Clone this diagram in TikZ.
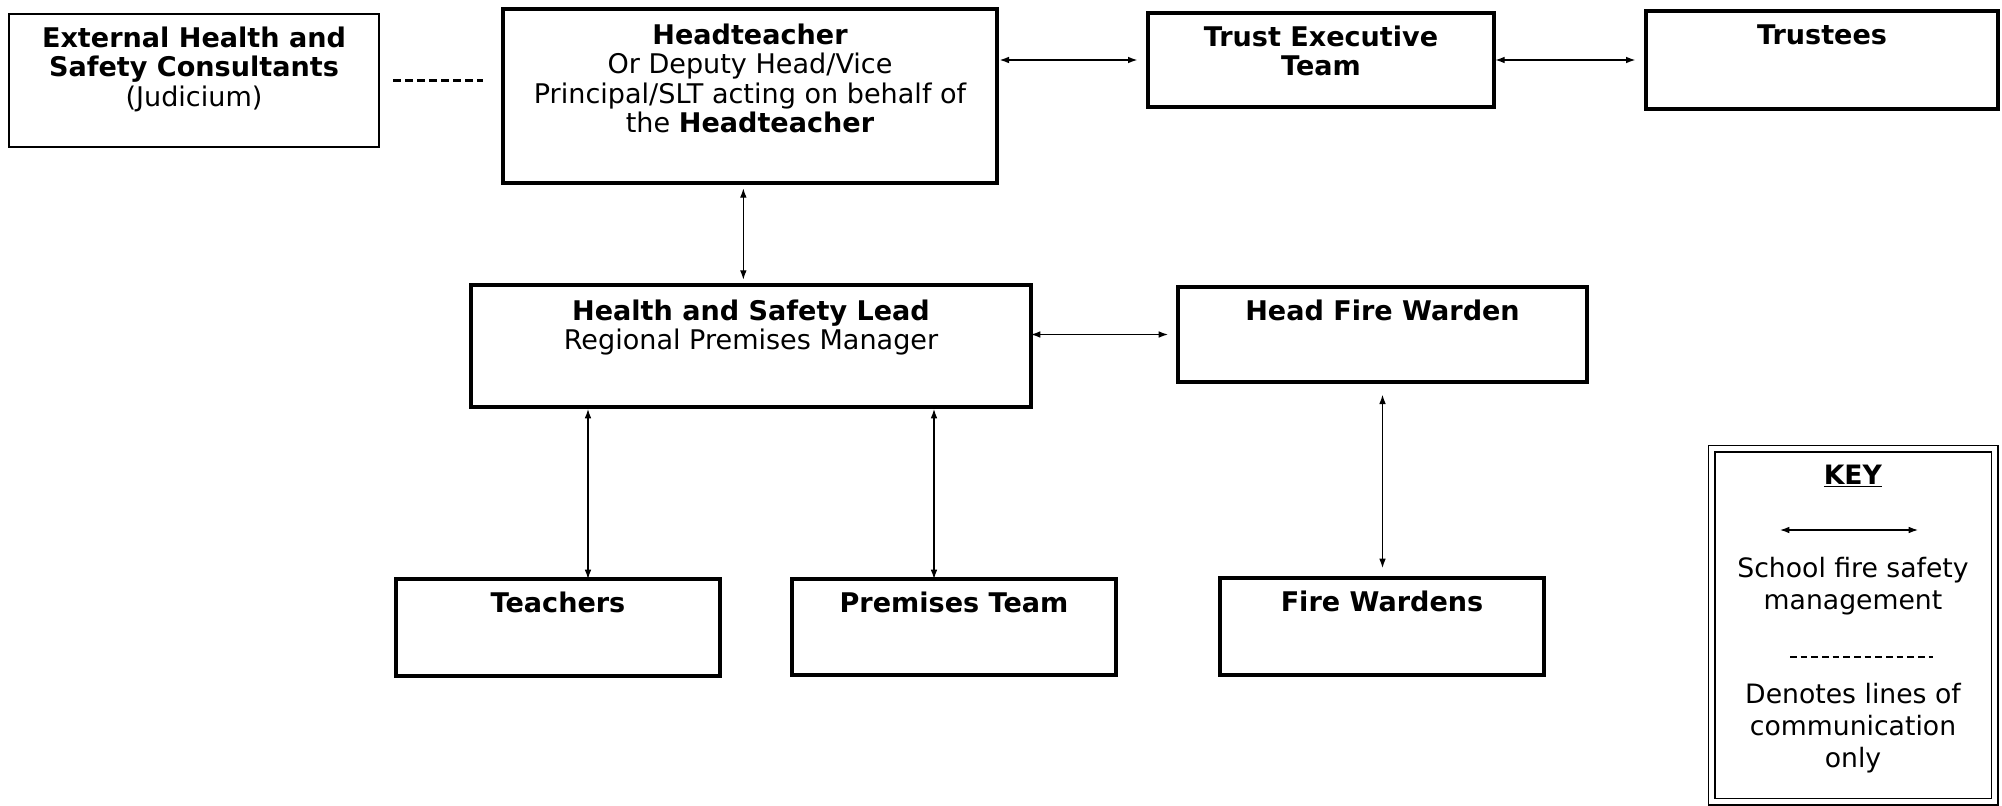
\documentclass[tikz,border=0pt]{standalone}
\usepackage{fontspec}
\setmainfont{DejaVu Sans}
\usetikzlibrary{arrows.meta}

\tikzset{every picture/.style={line width=0.75pt}}
\tikzset{
  orgbox/.style={draw, line width=2.3pt, anchor=north west, inner sep=0pt, outer sep=0pt},
  boxtext/.style={anchor=north, align=center, inner sep=0pt, font=\fontsize{20.3}{22.2}\selectfont},
  keytext/.style={align=center, inner sep=0pt, font=\fontsize{20}{24}\selectfont},
  link/.style={{Latex[length=7pt,width=5pt]}-{Latex[length=7pt,width=5pt]}, line width=0.9pt},
  commline/.style={line width=1.6pt, dash pattern=on 6pt off 3pt},
}

\begin{document}
\begin{tikzpicture}[x=0.75pt,y=0.75pt,yscale=-1,xscale=1]
	\useasboundingbox (0,0) rectangle (2002,806);

	%Shape: Rectangle [External consultants]
	\node[orgbox, line width=1.4pt, minimum width=277.5pt, minimum height=99.75pt] (ext) at (9,14) {};
	%Shape: Rectangle [Headteacher]
	\node[orgbox, minimum width=370.5pt, minimum height=130.5pt] (head) at (503,9) {};
	%Shape: Rectangle [Trust Executive Team]
	\node[orgbox, minimum width=259.5pt, minimum height=70.5pt] (trust) at (1148,13) {};
	%Shape: Rectangle [Trustees]
	\node[orgbox, minimum width=264pt, minimum height=73.5pt] (trustees) at (1646,11) {};
	%Shape: Rectangle [Health and Safety Lead]
	\node[orgbox, minimum width=420pt, minimum height=91.5pt] (hslead) at (471,285) {};
	%Shape: Rectangle [Head Fire Warden]
	\node[orgbox, minimum width=306.75pt, minimum height=71.25pt] (hfw) at (1178,287) {};
	%Shape: Rectangle [Teachers]
	\node[orgbox, minimum width=243pt, minimum height=72.75pt] (teachers) at (396,579) {};
	%Shape: Rectangle [Premises Team]
	\node[orgbox, minimum width=243pt, minimum height=72pt] (premises) at (792,579) {};
	%Shape: Rectangle [Fire Wardens]
	\node[orgbox, minimum width=243pt, minimum height=72.75pt] (wardens) at (1220,578) {};
	%Shape: Rectangle [Key]
	\node[orgbox, line width=1.2pt, double, double distance=3.6pt, minimum width=212.25pt, minimum height=264.75pt] (key) at (1711.5,448.5) {};

	% Text Node
	\node[boxtext] (exttxt) at ([yshift=9pt]ext.north) {\textbf{External Health and}\\\textbf{Safety Consultants}\\(Judicium)};
	% Text Node
	\node[boxtext] (headtxt) at ([yshift=10.5pt]head.north) {\textbf{Headteacher}\\Or Deputy Head/Vice\\Principal/SLT acting on behalf of\\the \textbf{Headteacher}};
	% Text Node
	\node[boxtext] (trusttxt) at ([yshift=9pt]trust.north) {\textbf{Trust Executive}\\\textbf{Team}};
	% Text Node
	\node[boxtext] (trusteestxt) at ([yshift=10pt]trustees.north) {\textbf{Trustees}};
	% Text Node
	\node[boxtext] (hsleadtxt) at ([yshift=10.5pt]hslead.north) {\textbf{Health and Safety Lead}\\Regional Premises Manager};
	% Text Node
	\node[boxtext] (hfwtxt) at ([yshift=9pt]hfw.north) {\textbf{Head Fire Warden}};
	% Text Node
	\node[boxtext] (teacherstxt) at ([yshift=9.5pt]teachers.north) {\textbf{Teachers}};
	% Text Node
	\node[boxtext] (premisestxt) at ([yshift=9.5pt]premises.north) {\textbf{Premises Team}};
	% Text Node
	\node[boxtext] (wardenstxt) at ([yshift=9.5pt]wardens.north) {\textbf{Fire Wardens}};

	%Straight Lines [communication only]
	\draw[commline, shorten <=10.5pt, shorten >=15pt] (ext.east) -- (ext.east -| head.west);
	%Straight Lines
	\draw[link, shorten <=2pt, shorten >=8pt] (head.east |- trust.west) -- (trust.west);
	%Straight Lines
	\draw[link, shorten <=1pt, shorten >=8pt] (trust.east) -- (trust.east -| trustees.west);
	%Straight Lines
	\coordinate (hdown) at ([xshift=-5pt]head.south);
	\draw[link, shorten <=4pt, shorten >=4pt] (hdown) -- (hdown |- hslead.north);
	%Straight Lines
	\draw[link, shorten <=0pt, shorten >=7.5pt] (hslead.east |- hfw.west) -- (hfw.west);
	%Straight Lines
	\coordinate (tup) at ([xshift=22.5pt]teachers.north);
	\draw[link, shorten <=0pt, shorten >=1.5pt] (tup) -- (tup |- hslead.south);
	%Straight Lines
	\coordinate (pup) at ([xshift=-15pt]premises.north);
	\draw[link, shorten <=0pt, shorten >=1.5pt] (pup) -- (pup |- hslead.south);
	%Straight Lines
	\draw[link, shorten <=9.5pt, shorten >=7.5pt] (hfw.south) -- (hfw.south |- wardens.north);

	% Key entries
	\node[keytext] (keytitle) at (1853,476) {\underline{\textbf{KEY}}};
	\coordinate (keyA) at (1780,530);
	\coordinate (keyB) at (1918,530);
	\draw[link] (keyA) -- (keyB);
	\node[keytext] (keymgmt) at (1853,586) {School fire safety\\management};
	\coordinate (keyC) at (1790,657);
	\coordinate (keyD) at (1933,657);
	\draw[line width=0.9pt, dash pattern=on 5pt off 3pt] (keyC) -- (keyD);
	\node[keytext] (keycomm) at (1853,728) {Denotes lines of\\communication\\only};

\end{tikzpicture}
\end{document}
